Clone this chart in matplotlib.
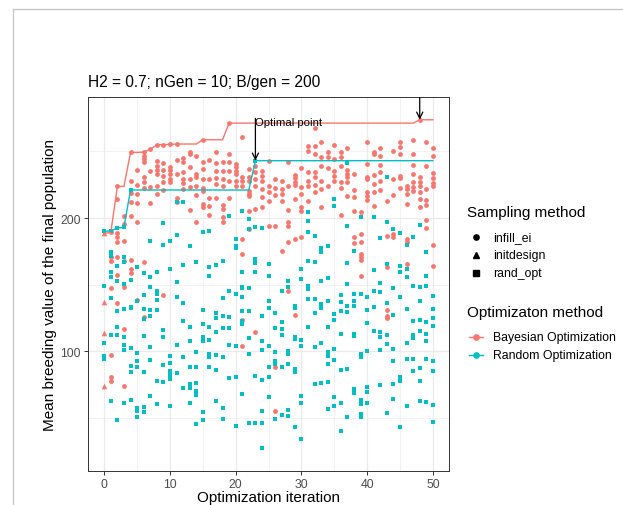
import numpy as np
import matplotlib
matplotlib.use("Agg")
import matplotlib.pyplot as plt
from matplotlib.lines import Line2D

plt.rcParams['font.family'] = ['Liberation Sans', 'DejaVu Sans']

# ggplot default hues
RED = '#F8766D'
CYAN = '#00BFC4'

# Bayesian optimization: initial design (iteration 0)
bo_init = [188.5, 136.7, 113.5, 74.2]

# Bayesian optimization: infill_ei values per iteration 1..50
bo_ei = [
    [189.2, 171, 168, 147.5, 97, 80.5, 78],
    [223.7, 214.2, 188.7, 185.5, 182.2, 171, 157.2, 136],
    [201.7, 195.5, 183, 168, 148, 116.7, 73.7],
    [249.2, 228, 218.7, 211.7, 201.2, 168.7, 161.7, 158.7],
    [236, 224.7, 218, 211.2, 196.7, 138.7],
    [249.5, 246.7, 244.2, 241.7, 231, 227.2, 222.7, 167.2, 125.5],
    [251.5, 235.5, 223, 211.2],
    [255, 243, 239.2, 236, 232.7, 224.2, 218],
    [255, 241.2, 236, 231.7, 227.2, 221.2, 142.2],
    [255.2, 238, 236, 233, 229.2, 227.2],
    [255.5, 243.5, 233, 214.7, 211.7],
    [244.7, 242.2, 234.7, 229.2, 226.2, 221.7],
    [249.7, 248, 238, 229.2, 223, 206.2],
    [246.7, 233, 230.5, 224.2, 217.2, 196.7],
    [258.7, 241.7, 236.7, 229.2, 222.5, 220.5, 210.5, 208],
    [243.7, 229.2, 214.7, 209.2, 202.2],
    [249.2, 241.2, 235.5, 229.7, 225.5, 214.7],
    [242.2, 235.5, 229.2, 224.2, 209.7, 206.7, 200.5, 196.7],
    [271.2, 248, 242.2, 235.5, 228, 214.7],
    [240.5, 238, 235.5, 233, 228, 223.7],
    [260.5, 230.5, 228, 223.7, 184.2, 173, 123.5, 104.2],
    [236.7, 230.5, 228, 220.5, 218, 216.2, 205.5, 191.7],
    [239.2, 234.7, 229.2, 224.2, 206.7, 114.2],
    [235.5, 231.7, 228, 221.7, 215.5, 208],
    [243, 224.2, 219.2, 213, 194.2],
    [229.2, 222.2, 217.2, 194.2, 88, 55.5],
    [228, 221.7, 218, 213, 175.5],
    [241.7, 224.2, 206.2, 196.7, 194.2, 181.7, 145.5],
    [232.2, 229.7, 227.2, 224.7, 214.2, 184.2, 127.2],
    [237.2, 223, 218, 208, 205.5, 185.5],
    [254.2, 250.5, 234.7, 228, 223.7, 213],
    [267.5, 254.2, 248, 234.2, 230.5, 224.7, 219.2],
    [256.7, 245.5, 238.7, 228, 221.7, 208],
    [249.2, 245.5, 237.2, 224.2],
    [255, 244.2, 235.5, 231.7, 228],
    [249.7, 245.5, 239.2, 226.7, 222.2, 202.2],
    [252.2, 236.2, 233, 230.5, 227.2, 216.2],
    [233, 221.2, 215.5, 205.5, 185.5, 181.2],
    [204.2, 188, 182.2, 173, 170.5, 168.7, 156.7],
    [257.2, 240.5, 230.5, 229.2, 219.7, 216.2, 213.7],
    [249.7, 248, 232.2, 225.5, 219.2, 209.2],
    [252.2, 246.7, 239.7, 234.2, 228, 221.2],
    [213, 186.7, 163, 131, 126.7, 125],
    [250.5, 229.2, 217.2, 188, 185.5],
    [257.2, 253, 248, 231.7, 229.7, 222.2],
    [224.2, 221.7, 218, 210.5, 184.2, 181.7, 165.5],
    [258.7, 248, 239.7, 233, 227.2, 223, 220.5],
    [273.7, 230.5, 227.2, 223.7, 219.2, 214.2, 208.5],
    [257.2, 239.2, 221.7, 213.7, 209.7, 198.7, 192.2],
    [252.2, 246.7, 233.7, 229.7, 226.2, 224.2, 179.7, 164.2],
]

# Random optimization: rand_opt values per iteration 0..50
ro_opt = [
    [190, 149.2, 106, 96.7, 94.2],
    [190.3, 174.2, 171.7, 159.7, 155.5, 140, 112.5, 63],
    [192.5, 164.2, 153, 130, 118, 112.5, 48.5],
    [193, 170.5, 167.2, 150.5, 131.7, 111, 105, 101, 61.2],
    [221, 153.7, 133.5, 132.5, 102.5, 89, 84.2, 63.5],
    [163, 137.5, 98.5, 93, 88.5, 57.5, 55, 50.5],
    [158.5, 142.2, 131.7, 124.2, 111.7, 84.2, 58, 54.2],
    [183, 155.5, 148.5, 131, 126.2, 103, 93.5, 66.7],
    [159.7, 145.5, 143, 138.5, 131, 78, 60.5],
    [196.2, 179.7, 116, 110.5, 89.7, 76.7],
    [183, 161.7, 96.7, 91.2, 85, 82.5, 79.2, 59.2],
    [211.7, 187.2, 151.7, 141, 105, 83.5],
    [212.2, 164.7, 136, 123, 95.5, 72.5],
    [179.2, 118.5, 108, 88.5, 75.5, 72.5, 61.2],
    [166.7, 99.2, 88.5, 76, 70, 67.5, 45.5],
    [189.2, 131.2, 120.5, 110.5, 107.5, 54.7, 48.5],
    [190.5, 163.5, 156.7, 118.5, 108.5, 98, 96, 88.5],
    [164.7, 128.5, 125, 114.7, 97.5, 86, 63],
    [168, 140, 126.7, 117.5, 96, 57.5, 49.2],
    [201.2, 145, 125.5, 117.5, 105, 79.7],
    [184.2, 179.2, 177.2, 143, 104.2, 81, 44.2],
    [205.5, 159.2, 148, 147.2, 141, 130, 123, 120.5, 68],
    [191.7, 199.2, 147.2, 130.5, 110, 98, 46],
    [243, 193, 169.2, 166.2, 159.2, 81.7, 46],
    [192.2, 126.5, 107.5, 101.2, 78.5, 55, 46, 27.5],
    [165.5, 156.2, 137.5, 132.5, 104.2, 88, 80.5, 65.5],
    [128.5, 117.5, 99.2, 93, 90.5, 49.2],
    [145, 121.7, 116.7, 112.5, 88.5, 52.5],
    [153, 148.5, 100.5, 98, 90.5, 56, 51.7],
    [134.2, 132.5, 111, 109.2, 86.7, 84.2, 43.5],
    [161.7, 154.2, 108.5, 104.2, 66.7, 61, 34.2],
    [204.2, 198, 189.7, 168, 149.2, 146.7, 139.2, 118],
    [186.7, 167.2, 139.2, 128.5, 103.5, 75.5],
    [177.2, 174.7, 153, 135.5, 132.5, 106, 76],
    [178.7, 154.7, 138, 118, 99.2, 96.7, 90.5, 76.7, 56.7],
    [214.2, 208.7, 128, 123.5, 101.7, 93.5, 66, 59.2],
    [142.5, 136.7, 130.5, 113, 86, 61, 40],
    [241.2, 194.2, 166.2, 150.5, 134.2, 129.7, 86.7, 50.5],
    [175.5, 143, 138, 134.2, 113, 111.7, 71.7, 68.5],
    [201, 143, 98, 95.5, 63.5, 60.5, 53, 51],
    [140.5, 131, 121, 100.5, 73.5, 69.2, 61],
    [200.5, 161.2, 145.5, 133, 115.5],
    [184.7, 151.2, 144.2, 114.2, 111, 101, 75],
    [230.5, 196.7, 165.5, 136, 112.5, 105.5, 53.5],
    [191.7, 147.5, 127.2, 101.7, 92.5, 75.5, 64.2],
    [188.7, 163.7, 159.2, 140.5, 81, 78, 43.5],
    [179.7, 161.7, 156, 131.5, 106, 94.2, 59.2],
    [185.5, 149.2, 122.5, 112.5, 110, 94.2, 85],
    [195, 148, 138, 123.5, 115, 87.5, 77.5, 63],
    [174.7, 156.7, 148.7, 121.7, 113, 107.5, 94.2, 61.7],
    [141.7, 131.7, 125, 119.2, 92.5, 85, 60, 46.7],
]

x_ticks = [0, 10, 20, 30, 40, 50]
y_ticks = [100, 200]

# flatten per-iteration lists into x/y
bo_x = np.concatenate([[i + 1] * len(v) for i, v in enumerate(bo_ei)])
bo_y = np.concatenate(bo_ei)
ro_x = np.concatenate([[i] * len(v) for i, v in enumerate(ro_opt)])
ro_y = np.concatenate(ro_opt)

# best-so-far curves
iters = np.arange(len(ro_opt))
bo_best = np.maximum.accumulate([max(bo_init)] + [max(v) for v in bo_ei])
ro_best = np.maximum.accumulate([max(v) for v in ro_opt])

W, H = 623, 506
fig = plt.figure(figsize=(W / 100, H / 100), dpi=100)
px = lambda x: x / W
py = lambda y: 1 - y / H

ax = fig.add_axes([px(87.8), py(472.3), px(449.3) - px(87.8), py(97.7) - py(472.3)])

# grid like theme_bw
for xv in [5, 15, 25, 35, 45]:
    ax.axvline(xv, color='#EBEBEB', lw=0.45, zorder=0)
for yv in [50, 150, 250]:
    ax.axhline(yv, color='#EBEBEB', lw=0.45, zorder=0)
for xv in x_ticks:
    ax.axvline(xv, color='#EBEBEB', lw=0.9, zorder=0)
for yv in y_ticks:
    ax.axhline(yv, color='#EBEBEB', lw=0.9, zorder=0)

ax.scatter([0] * len(bo_init), bo_init, marker='^', s=16, c=RED, linewidths=0, zorder=2)
ax.scatter(bo_x, bo_y, marker='o', s=12, c=RED, linewidths=0, zorder=2)
ax.scatter(ro_x, ro_y, marker='s', s=12, c=CYAN, linewidths=0, zorder=2)

ax.plot(iters, bo_best, color=RED, lw=1.0, zorder=3)
ax.plot(iters, ro_best, color=CYAN, lw=1.0, zorder=3)

# annotations
arr = dict(arrowstyle='->,head_length=0.45,head_width=0.22', color='black', lw=0.9,
           shrinkA=0, shrinkB=0, mutation_scale=10)
ax.annotate('', xy=(23, ro_best[23]), xytext=(23, 274.7), arrowprops=arr, zorder=4)
ax.text(23, 271.8, 'Optimal point', ha='left', va='center', fontsize=8.2, zorder=4)
a2 = ax.annotate('', xy=(48, bo_best[48]), xytext=(48, 300), arrowprops=arr, zorder=4)
a2.arrow_patch.set_clip_on(True)
a2.arrow_patch.set_clip_box(ax.bbox)

ax.set_xlim(-2.5, 52.5)
ax.set_ylim(10, 291)
ax.set_xticks(x_ticks)
ax.set_yticks(y_ticks)
ax.tick_params(length=2.75, width=0.7, color='#333333', labelcolor='#4D4D4D',
               labelsize=8.8, pad=2.2)
for s in ax.spines.values():
    s.set_color('#333333')
    s.set_linewidth(0.7)

# titles
fig.text(px(87.8), py(82.7), 'H2 = 0.7; nGen = 10; B/gen = 200', fontsize=11.2,
         ha='left', va='center')
fig.text(px(50.3), py(285), 'Mean breeding value of the final population', fontsize=11,
         rotation=90, ha='center', va='center')
fig.text(px(268.5), py(491), 'Optimization iteration', fontsize=11, ha='center', va='top')

# legends, drawn by hand
fig.text(px(466.8), py(213), 'Sampling method', fontsize=11, ha='left', va='center')
shapes = [('o', 'infill_ei', 237.7), ('^', 'initdesign', 256), ('s', 'rand_opt', 274)]
for m, lab, yy in shapes:
    fig.add_artist(Line2D([px(475.5)], [py(yy)], marker=m, color='black', ls='none',
                          markersize=3.8, transform=fig.transFigure))
    fig.text(px(492.7), py(yy), lab, fontsize=8.8, ha='left', va='center')

fig.text(px(466.8), py(313.3), 'Optimizaton method', fontsize=11, ha='left', va='center')
for col, lab, yy in [(RED, 'Bayesian Optimization', 337.7), (CYAN, 'Random Optimization', 355.7)]:
    fig.add_artist(Line2D([px(468.5), px(483)], [py(yy), py(yy)], color=col, lw=1.0,
                          transform=fig.transFigure))
    fig.add_artist(Line2D([px(475.7)], [py(yy)], marker='o', color=col, ls='none',
                          markersize=3.8, transform=fig.transFigure))
    fig.text(px(492.7), py(yy), lab, fontsize=8.8, ha='left', va='center')

# light frame of the screenshot
fig.add_artist(Line2D([px(12.5), 1], [py(9.5), py(9.5)], color='#C4C4C4', lw=0.9,
                      transform=fig.transFigure))
fig.add_artist(Line2D([px(12.5), px(12.5)], [py(9.5), 0], color='#C4C4C4', lw=0.9,
                      transform=fig.transFigure))

fig.savefig('out.png', dpi=100)
